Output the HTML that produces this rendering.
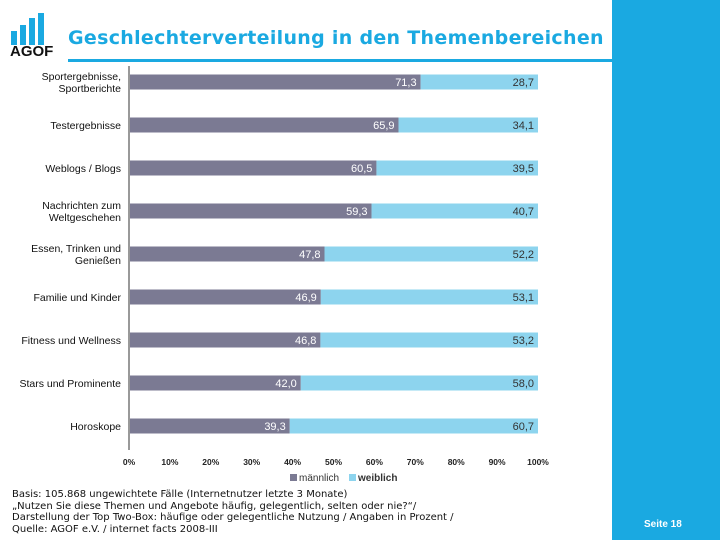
<!DOCTYPE html>
<html><head><meta charset="utf-8"><style>
body{margin:0;width:720px;height:540px;overflow:hidden;background:#fff;font-family:"Liberation Sans","DejaVu Sans",sans-serif;position:relative}
.panel{position:absolute;left:612px;top:0;width:108px;height:540px;background:#1aa9e1}
.title{position:absolute;left:68px;top:27px;font-family:"DejaVu Sans",sans-serif;font-weight:bold;font-size:19px;color:#1aa9e1;letter-spacing:0.3px;white-space:nowrap}
.rule{position:absolute;left:68px;top:59px;width:544px;height:3px;background:#1aa9e1}
.logo{position:absolute;left:11px;top:13px}
.agof{position:absolute;left:10px;top:43px;font-weight:bold;font-size:15px;color:#111}
.foot{position:absolute;left:12px;top:489px;font-family:"DejaVu Sans",sans-serif;font-size:10px;line-height:11.7px;color:#111;white-space:nowrap}
.page{position:absolute;left:644px;top:519px;font-size:10px;font-weight:bold;color:#fff}
</style></head><body>
<div class="panel"></div>
<svg class="logo" width="40" height="32">
<rect x="0" y="18" width="6" height="14" fill="#1aa9e1"/><rect x="9" y="12" width="6" height="20" fill="#1aa9e1"/><rect x="18" y="5" width="6" height="27" fill="#1aa9e1"/><rect x="27" y="0" width="6" height="32" fill="#1aa9e1"/></svg>
<div class="agof">AGOF</div>
<div class="title">Geschlechterverteilung in den Themenbereichen</div>
<div class="rule"></div>
<svg id="chart" width="720" height="540" style="position:absolute;left:0;top:0"></svg>
<div class="foot">Basis: 105.868 ungewichtete Fälle (Internetnutzer letzte 3 Monate)<br>„Nutzen Sie diese Themen und Angebote häufig, gelegentlich, selten oder nie?“/<br>Darstellung der Top Two-Box: häufige oder gelegentliche Nutzung / Angaben in Prozent /<br>Quelle: AGOF e.V. / internet facts 2008-III</div>
<div class="page">Seite 18</div>
<script>
const categories=[["Sportergebnisse,","Sportberichte"],["Testergebnisse"],["Weblogs / Blogs"],["Nachrichten zum","Weltgeschehen"],["Essen, Trinken und","Genießen"],["Familie und Kinder"],["Fitness und Wellness"],["Stars und Prominente"],["Horoskope"]];
const maleValues=[71.3,65.9,60.5,59.3,47.8,46.9,46.8,42.0,39.3];
const femaleValues=[28.7,34.1,39.5,40.7,52.2,53.1,53.2,58.0,60.7];
const tickLabels=["0%","10%","20%","30%","40%","50%","60%","70%","80%","90%","100%"];
const svg=document.getElementById('chart');const NS="http://www.w3.org/2000/svg";
const x0=129,x1=538,yTop=82,step=43,bh=15;
const xs=v=>x0+(x1-x0)*v/100;
const ys=i=>yTop+i*step;
function mk(t,a){const e=document.createElementNS(NS,t);for(const k in a)e.setAttribute(k,a[k]);svg.appendChild(e);return e;}
const fmt=v=>v.toFixed(1).replace('.',',');
categories.forEach((c,i)=>{
 const cy=ys(i);
 let r=mk('rect',{x:xs(0),y:cy-bh/2,width:xs(maleValues[i])-xs(0),height:bh,fill:'#7b7a93'});
 
 
 let r2=mk('rect',{x:xs(maleValues[i]),y:cy-bh/2,width:xs(maleValues[i]+femaleValues[i])-xs(maleValues[i]),height:bh,fill:'#8dd4ee'});
 
 
 let t=mk('text',{x:xs(maleValues[i])-4,y:cy+4,'text-anchor':'end','font-size':11,fill:'#fff'});t.textContent=fmt(maleValues[i]);
 
 
 let t2=mk('text',{x:xs(maleValues[i]+femaleValues[i])-4,y:cy+4,'text-anchor':'end','font-size':11,fill:'#333'});t2.textContent=fmt(femaleValues[i]);
 
 
 const n=c.length;
 c.forEach((line,j)=>{let l=mk('text',{x:n>1?84:121,y:cy+4+(j-(n-1)/2)*12,'text-anchor':n>1?'middle':'end','font-size':10.5,fill:'#111'});l.textContent=line;
 if(n>1){l.setAttribute('x',121);l.setAttribute('text-anchor','end');if(j==1){l.setAttribute('x',121-(i==0?0:0));}}
 
 });
});
let ax=mk('line',{x1:x0,y1:66,x2:x0,y2:450,stroke:'#999','stroke-width':2});


tickLabels.forEach((s,i)=>{let t=mk('text',{x:xs(i*10),y:465,'text-anchor':'middle','font-size':8.5,'font-weight':'bold',fill:'#222'});t.textContent=s;
 
 });
let lg1=mk('rect',{x:290,y:474,width:7,height:7,fill:'#7b7a93'});


let lt1=mk('text',{x:299,y:481,'font-size':10,fill:'#333'});lt1.textContent='männlich';


let lg2=mk('rect',{x:349,y:474,width:7,height:7,fill:'#8dd4ee'});


let lt2=mk('text',{x:358,y:481,'font-size':10,'font-weight':'bold',fill:'#333'});lt2.textContent='weiblich';


</script>
</body></html>
